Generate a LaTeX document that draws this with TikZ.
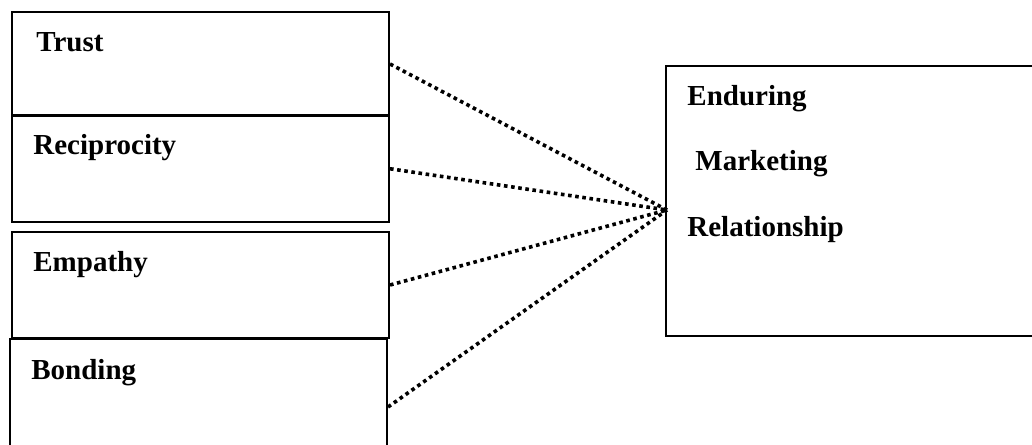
\documentclass[tikz,border=0pt]{standalone}
\usepackage{fontspec}
\setmainfont{Liberation Serif}
\usetikzlibrary{positioning}

\begin{document}
\begin{tikzpicture}[x=0.5pt, y=-0.5pt,
		box/.style={rectangle, draw, line width=1pt, inner sep=0pt},
		lbl/.style={anchor=base west, inner sep=0pt, font=\fontsize{14.5}{17}\selectfont\bfseries},
		link/.style={line width=1.8pt, dash pattern=on 1.8pt off 1.8pt}]
				\useasboundingbox (0,0) rectangle (1032,444);
				\clip (0,0) rectangle (1032,444);
				\node[box, minimum width=188.5pt, minimum height=51.5pt] (trust) at (200.5, 64) {};
				\node[box, minimum width=188.5pt, minimum height=53.5pt] (recip) at (200.5, 168.75) {};
				\node[box, minimum width=188.5pt, minimum height=53pt] (empathy) at (200.5, 285) {};
				\node[box, minimum width=188.5pt, minimum height=68pt] (bonding) at (198.5, 407) {};
				\node[box, minimum width=200pt, minimum height=135pt] (erm) at (866, 201) {};
				\coordinate (hub) at (667, 210);
				\node[lbl] (trustT) at (36, 52) {Trust};
				\node[lbl] (recipT) at (33, 155) {Reciprocity};
				\node[lbl] (empathyT) at (33, 271) {Empathy};
				\node[lbl] (bondingT) at (31, 379) {Bonding};
				\node[lbl] (ermA) at (687, 105) {Enduring};
				\node[lbl] (ermB) at (695, 170) {Marketing};
				\node[lbl] (ermC) at (687, 236) {Relationship};
				\draw[link] (trust.east) -- (hub);
				\draw[link] (recip.east) -- (hub);
				\draw[link] (empathy.east) -- (hub);
				\draw[link] (bonding.east) -- (hub);
			\end{tikzpicture}
\end{document}
